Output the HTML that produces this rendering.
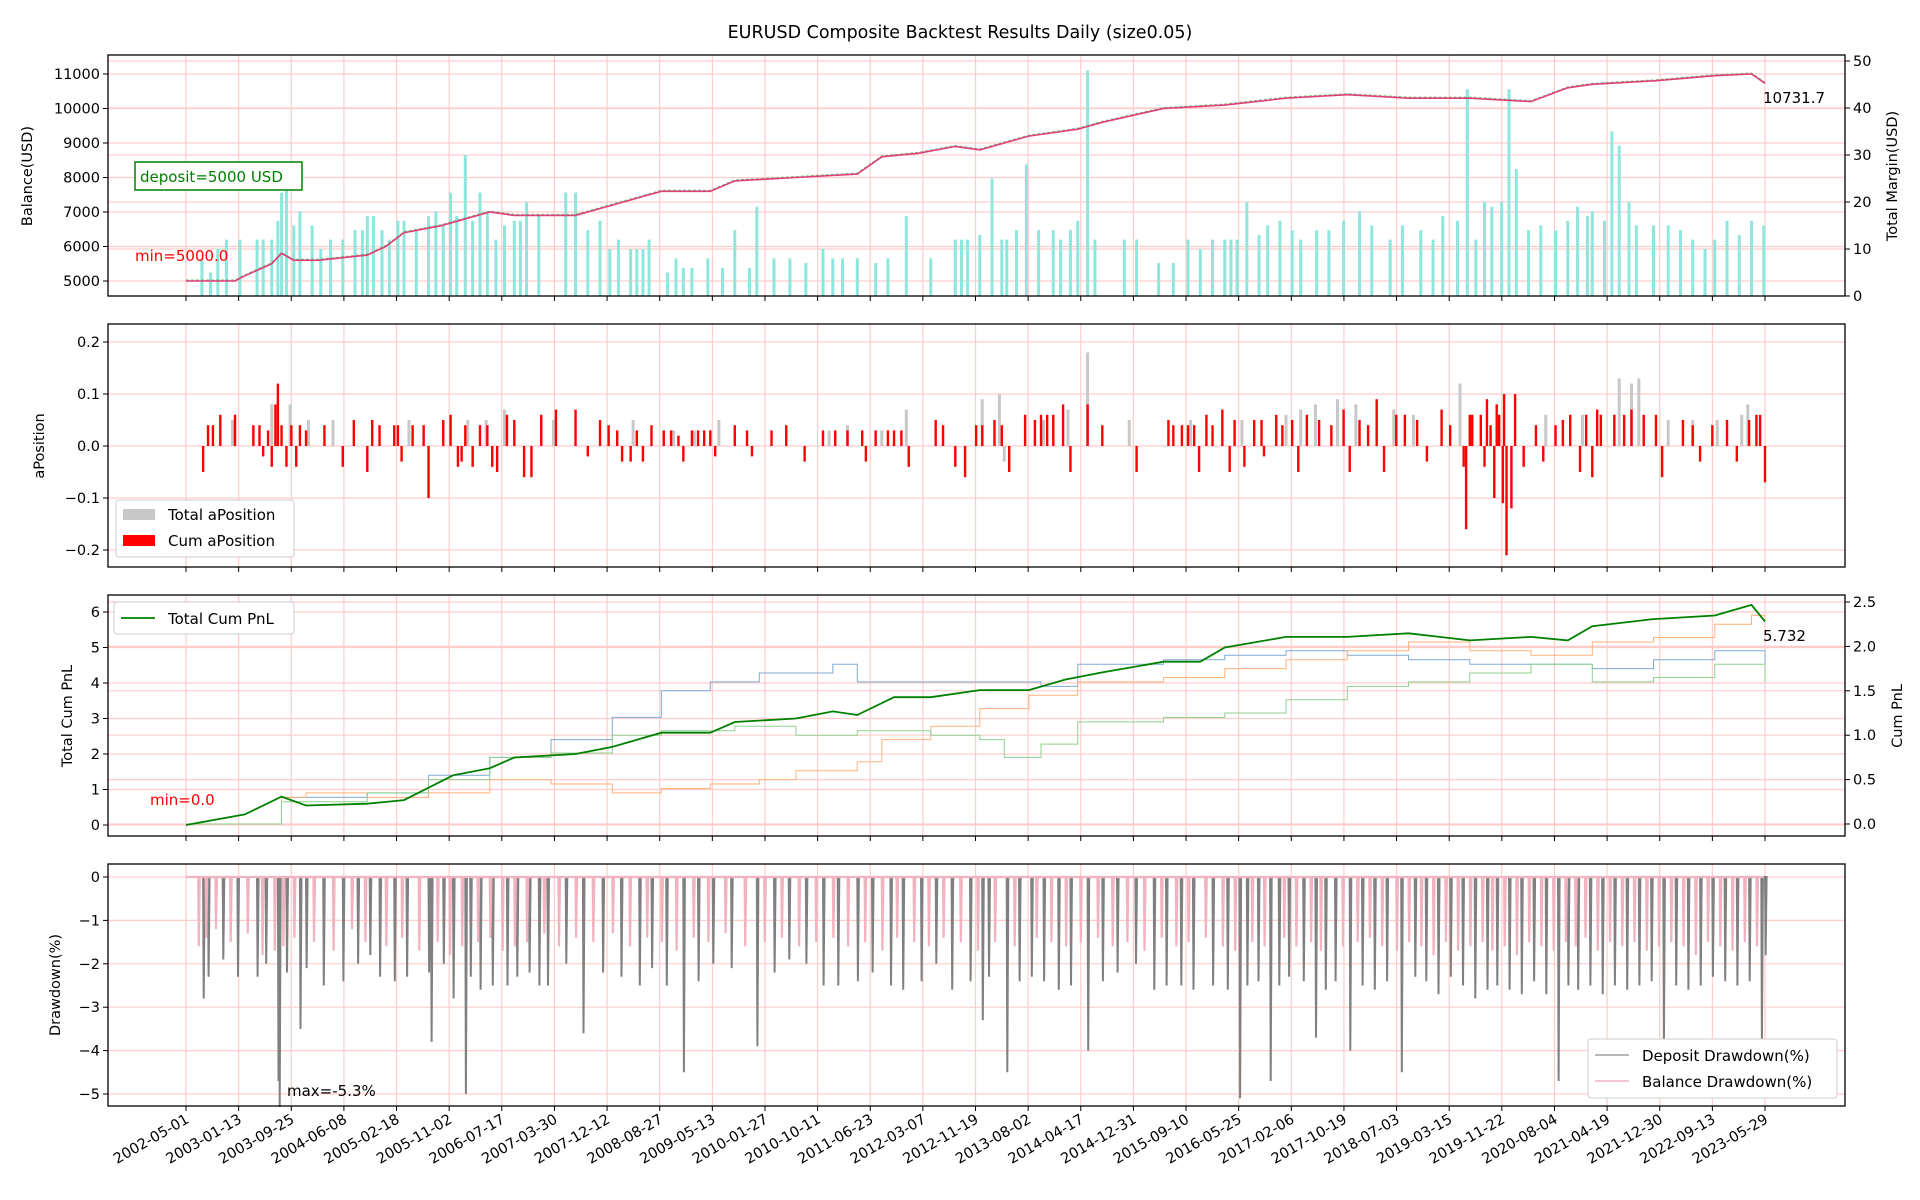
<!DOCTYPE html>
<html><head><meta charset="utf-8"><style>
html,body{margin:0;padding:0;background:#fff;}
svg{display:block;font-family:"DejaVu Sans","Liberation Sans",sans-serif;}
</style></head><body>
<svg id="chart" width="1920" height="1200" viewBox="0 0 1920 1200" xmlns="http://www.w3.org/2000/svg">
<text x="960" y="38" font-size="17.5" text-anchor="middle">EURUSD Composite Backtest Results Daily (size0.05)</text>
</svg>
<script>
// ---------- data ----------
const dateLabels = ["2002-05-01","2003-01-13","2003-09-25","2004-06-08","2005-02-18","2005-11-02","2006-07-17","2007-03-30","2007-12-12","2008-08-27","2009-05-13","2010-01-27","2010-10-11","2011-06-23","2012-03-07","2012-11-19","2013-08-02","2014-04-17","2014-12-31","2015-09-10","2016-05-25","2017-02-06","2017-10-19","2018-07-03","2019-03-15","2019-11-22","2020-08-04","2021-04-19","2021-12-30","2022-09-13","2023-05-29"];
const balanceIdx = [0,40,48,70,78,88,108,148,163,178,208,248,268,318,348,388,428,448,498,548,568,598,628,648,688,728,748,798,848,898,948,998,1048,1098,1128,1148,1198,1248,1278,1289];
const balanceVal = [5000,5000,5150,5500,5800,5600,5600,5750,6000,6400,6600,7000,6900,6900,7200,7600,7600,7900,8000,8100,8600,8700,8900,8800,9200,9400,9600,10000,10100,10300,10400,10300,10300,10200,10600,10700,10800,10950,11000,10731.7];
const marginIdx = [13,20,26,33,44,58,63,70,75,78,82,88,93,103,110,118,128,138,144,148,153,160,166,173,178,188,198,204,210,216,221,228,234,240,246,253,260,268,273,278,288,310,318,328,338,346,353,363,368,373,378,393,400,406,413,426,438,448,460,466,480,493,506,520,528,536,548,563,573,588,608,628,633,638,648,658,666,670,678,686,696,708,714,722,728,736,742,766,776,794,806,818,828,838,848,853,858,866,876,883,893,903,910,923,933,945,958,968,983,993,1008,1018,1026,1038,1046,1053,1060,1066,1074,1080,1086,1096,1106,1118,1128,1136,1144,1148,1158,1164,1170,1178,1184,1198,1210,1220,1230,1240,1248,1258,1268,1278,1288];
const marginVal = [8,5,10,12,12,12,12,12,16,22,25,15,18,15,10,12,12,14,14,17,17,14,12,16,16,14,17,18,15,22,17,30,16,22,18,12,15,16,16,20,17,22,22,14,16,10,12,10,10,10,12,5,8,6,6,8,6,14,6,19,8,8,7,10,8,8,8,7,8,17,8,12,12,12,13,25,12,12,14,28,14,14,12,14,16,48,12,12,12,7,7,12,10,12,12,12,12,20,13,15,16,14,12,14,14,16,18,15,12,15,14,12,17,16,44,12,20,19,20,44,27,14,15,14,16,19,17,18,16,35,32,20,15,15,15,14,12,10,12,16,13,16,15];
const cumPosIdx = [14,18,22,28,40,55,60,63,67,70,73,75,78,82,86,90,93,98,113,128,137,148,152,158,170,173,176,185,194,198,210,216,222,225,228,234,240,246,250,254,262,268,276,282,290,302,318,328,338,345,352,356,363,368,373,380,390,396,402,406,413,418,423,428,432,448,458,462,478,490,505,520,530,540,552,555,563,573,578,584,590,612,618,628,636,645,650,660,666,672,685,693,698,703,708,716,722,736,748,776,802,806,813,818,823,827,833,838,846,852,856,864,872,878,880,890,895,903,908,915,925,935,945,950,958,965,972,978,988,995,1005,1013,1025,1032,1043,1045,1048,1050,1057,1060,1062,1065,1068,1070,1072,1075,1076,1078,1082,1085,1092,1102,1108,1118,1124,1130,1138,1143,1148,1152,1155,1166,1174,1180,1190,1200,1205,1222,1230,1236,1246,1258,1266,1276,1282,1285,1289];
const cumPosVal = [-0.05,0.04,0.04,0.06,0.06,0.04,0.04,-0.02,0.03,-0.04,0.08,0.12,0.04,-0.04,0.04,-0.04,0.04,0.03,0.04,-0.04,0.05,-0.05,0.05,0.04,0.04,0.04,-0.03,0.04,0.04,-0.10,0.05,0.06,-0.04,-0.03,0.04,-0.04,0.04,0.04,-0.04,-0.05,0.06,0.05,-0.06,-0.06,0.06,0.07,0.07,-0.02,0.05,0.04,0.03,-0.03,-0.03,0.03,-0.03,0.04,0.03,0.03,0.02,-0.03,0.03,0.03,0.03,0.03,-0.02,0.04,0.03,-0.02,0.03,0.04,-0.03,0.03,0.03,0.03,0.03,-0.03,0.03,0.03,0.03,0.03,-0.04,0.05,0.04,-0.04,-0.06,0.04,0.04,0.05,0.04,-0.05,0.06,0.05,0.06,0.06,0.06,0.08,-0.05,0.08,0.04,-0.05,0.05,0.04,0.04,0.04,0.04,-0.05,0.06,0.04,0.07,-0.05,0.05,-0.04,0.05,0.05,-0.02,0.06,0.04,0.05,-0.05,0.06,0.05,0.04,0.07,-0.05,0.05,0.04,0.09,-0.05,0.06,0.06,0.05,-0.03,0.07,0.04,-0.04,-0.16,0.06,0.06,0.06,-0.04,0.09,0.04,-0.10,0.08,0.06,-0.11,0.10,-0.21,-0.12,0.10,-0.04,0.04,-0.03,0.04,0.05,0.06,-0.05,0.06,-0.06,0.07,0.06,0.06,0.06,0.07,0.06,0.06,-0.06,0.05,0.04,-0.03,0.04,0.05,-0.03,0.05,0.06,0.06,-0.07];
const totPosIdx = [38,70,85,100,120,182,230,245,260,300,365,398,415,435,525,540,568,588,650,664,668,700,720,736,770,820,862,898,910,922,940,955,986,1002,1040,1110,1140,1170,1180,1186,1210,1230,1250,1270,1275];
const totPosVal = [0.05,0.08,0.08,0.05,0.05,0.05,0.05,0.05,0.07,0.05,0.05,0.03,0.03,0.05,0.03,0.04,0.03,0.07,0.09,0.10,-0.03,0.05,0.07,0.18,0.05,0.05,0.05,0.06,0.07,0.08,0.09,0.08,0.07,0.06,0.12,0.06,0.06,0.13,0.12,0.13,0.05,0.05,0.05,0.06,0.08];
const totPnlIdx = [0,48,78,98,148,178,218,248,268,318,348,388,428,448,498,528,548,578,608,648,688,718,748,798,828,848,898,948,998,1048,1098,1128,1148,1198,1248,1278,1289];
const totPnlVal = [0,0.3,0.8,0.55,0.6,0.7,1.4,1.6,1.9,2.0,2.2,2.6,2.6,2.9,3.0,3.2,3.1,3.6,3.6,3.8,3.8,4.1,4.3,4.6,4.6,5.0,5.3,5.3,5.4,5.2,5.3,5.2,5.6,5.8,5.9,6.2,5.732];
const blueIdx = [0,78,148,198,248,298,348,388,428,468,498,528,548,598,648,698,728,798,848,898,948,998,1048,1098,1148,1198,1248,1289];
const blueVal = [0,0.3,0.35,0.55,0.75,0.95,1.2,1.5,1.6,1.7,1.7,1.8,1.6,1.6,1.6,1.55,1.8,1.85,1.9,1.95,1.9,1.85,1.8,1.8,1.75,1.85,1.95,1.8];
const orangeIdx = [0,78,98,148,198,248,298,348,388,428,468,498,548,568,608,648,688,728,798,848,898,948,998,1048,1098,1148,1198,1248,1278,1289];
const orangeVal = [0,0.3,0.35,0.3,0.35,0.5,0.45,0.35,0.4,0.45,0.5,0.6,0.7,0.95,1.1,1.3,1.45,1.6,1.65,1.75,1.85,1.95,2.05,1.95,1.9,2.05,2.1,2.25,2.35,2.3];
const greenIdx = [0,78,148,198,248,298,348,388,448,498,548,608,648,668,698,728,798,848,898,948,998,1048,1098,1148,1198,1248,1289];
const greenVal = [0,0.25,0.35,0.5,0.75,0.8,1.0,1.05,1.1,1.0,1.05,1.0,0.95,0.75,0.9,1.15,1.2,1.25,1.4,1.55,1.6,1.7,1.8,1.6,1.65,1.8,1.6];
const depDdIdx = [14,18,30,42,58,65,75,76,82,93,98,112,128,140,150,158,170,180,198,200,210,218,228,232,240,250,262,270,280,288,295,310,324,340,355,370,380,392,406,418,430,445,466,480,492,506,520,532,548,560,575,585,600,612,625,640,650,655,670,680,690,700,712,722,736,748,760,775,790,800,812,822,838,850,860,866,875,885,892,900,912,922,930,938,950,960,970,980,992,1003,1012,1022,1032,1042,1052,1062,1070,1080,1090,1100,1110,1120,1128,1136,1146,1156,1166,1176,1186,1196,1206,1216,1226,1236,1246,1256,1266,1276,1286,1289];
const depDdVal = [-2.8,-2.3,-1.9,-2.3,-2.3,-2.0,-4.7,-5.3,-2.2,-3.5,-2.1,-2.5,-2.4,-2.0,-1.8,-2.3,-2.4,-2.3,-2.2,-3.8,-2.0,-2.8,-5.0,-2.3,-2.6,-2.5,-2.5,-2.3,-2.2,-2.5,-2.5,-2.0,-3.6,-2.2,-2.3,-2.5,-2.1,-2.5,-4.5,-2.4,-2.0,-2.1,-3.9,-2.2,-1.9,-2.0,-2.5,-2.5,-2.4,-2.2,-2.5,-2.6,-2.4,-2.0,-2.6,-2.4,-3.3,-2.3,-4.5,-2.4,-2.3,-2.4,-2.6,-2.5,-4.0,-2.4,-2.2,-2.0,-2.6,-2.5,-2.5,-2.6,-2.5,-2.6,-5.1,-2.5,-2.4,-4.7,-2.5,-2.3,-2.4,-3.7,-2.6,-2.4,-4.0,-2.5,-2.6,-2.4,-4.5,-2.3,-2.4,-2.7,-2.3,-2.5,-2.8,-2.6,-2.5,-2.6,-2.7,-2.4,-2.7,-4.7,-2.5,-2.6,-2.5,-2.7,-2.5,-2.6,-2.5,-2.4,-4.0,-2.5,-2.6,-2.5,-2.3,-2.4,-2.5,-2.4,-3.9,-1.8];
const balDdIdx = [10,16,24,36,50,62,72,79,88,104,120,135,146,163,176,190,205,215,225,238,248,258,268,278,292,304,318,332,348,362,376,388,400,414,426,440,456,472,486,500,514,528,540,554,568,580,594,606,618,632,646,660,676,694,706,718,730,744,756,768,782,796,808,818,832,846,856,870,880,896,906,918,926,944,956,966,976,988,998,1008,1018,1028,1038,1048,1058,1066,1076,1086,1096,1106,1116,1126,1134,1142,1152,1162,1172,1182,1192,1202,1212,1222,1232,1242,1252,1262,1272,1282,1288];
const balDdVal = [-1.6,-1.4,-1.2,-1.5,-1.3,-1.8,-1.7,-1.6,-1.4,-1.5,-1.7,-1.2,-1.5,-1.6,-1.4,-1.7,-1.5,-1.8,-1.6,-1.5,-1.4,-1.7,-1.6,-1.5,-1.3,-1.6,-1.4,-1.5,-1.3,-1.6,-1.4,-1.5,-1.7,-1.4,-1.5,-1.3,-1.6,-1.5,-1.4,-1.6,-1.5,-1.4,-1.6,-1.5,-1.7,-1.4,-1.5,-1.6,-1.4,-1.5,-1.7,-1.5,-1.6,-1.4,-1.5,-1.6,-1.5,-1.4,-1.6,-1.5,-1.7,-1.4,-1.6,-1.5,-1.4,-1.6,-1.7,-1.5,-1.6,-1.4,-1.6,-1.5,-1.7,-1.6,-1.5,-1.4,-1.6,-1.7,-1.5,-1.6,-1.8,-1.5,-1.7,-1.6,-1.5,-1.7,-1.6,-1.8,-1.5,-1.6,-1.7,-1.5,-1.6,-1.4,-1.7,-1.5,-1.6,-1.5,-1.7,-1.6,-1.5,-1.6,-1.8,-1.5,-1.6,-1.7,-1.5,-1.6];
const balTicks = [5000,6000,7000,8000,9000,10000,11000];
const marginTicks = [0,10,20,30,40,50];
const posTicks = [-0.2,-0.1,0.0,0.1,0.2];
const pnlTicks = [0,1,2,3,4,5,6];
const cumPnlTicks = [0.0,0.5,1.0,1.5,2.0,2.5];
const ddTicks = [0,-1,-2,-3,-4,-5];

// ---------- layout ----------
const NS="http://www.w3.org/2000/svg";
const svg=document.getElementById('chart');
const AX_L=108, AX_R=1845;
const X0=186, X_END=1765, IDX_END=1289;
const NT=dateLabels.length;
const panels=[{t:55,b:296},{t:324,b:567},{t:595,b:836},{t:864,b:1106}];
function X(i){return X0+i*(X_END-X0)/IDX_END;}
function tickX(k){return X0+k*(X_END-X0)/(NT-1);}
function lin(v0,p0,v1,p1){return v=>p0+(v-v0)*(p1-p0)/(v1-v0);}
const y1L=lin(5000,281,11000,74), y1R=lin(0,296,50,61);
const y2=lin(0,446,0.2,342);
const y3L=lin(0,825,6,612), y3R=lin(0,824,2.5,602);
const y4=lin(0,877,-5,1094);
function el(tag,attrs,parent){const e=document.createElementNS(NS,tag);for(const k in attrs)e.setAttribute(k,attrs[k]);(parent||svg).appendChild(e);return e;}
function fmt(v,d){return (v<0?"\u2212":"")+Math.abs(v).toFixed(d);}

function gridAndFrame(p,name){
  const g=el('g',{});
  
  
  for(let k=0;k<NT;k++){el('line',{x1:tickX(k),x2:tickX(k),y1:p.t,y2:p.b,stroke:'#ffcccc','stroke-width':1.2},g);}
  return g;
}
function hgrid(g,ticks,f){ticks.forEach(v=>{const y=f(v);el('line',{x1:AX_L,x2:AX_R,y1:y,y2:y,stroke:'#ffcccc','stroke-width':1.2},g);});}
function frame(p,name){
  const r=el('rect',{x:AX_L,y:p.t,width:AX_R-AX_L,height:p.b-p.t,fill:'none',stroke:'#000','stroke-width':1.3});
  
  
  for(let k=0;k<NT;k++){el('line',{x1:tickX(k),x2:tickX(k),y1:p.b,y2:p.b+5,stroke:'#000','stroke-width':1});}
}
function leftTicks(ticks,f,dec,name,minus){
  const g=el('g',{});
  
  
  ticks.forEach(v=>{const y=f(v);el('line',{x1:AX_L-5,x2:AX_L,y1:y,y2:y,stroke:'#000'},g);
    const t=el('text',{x:AX_L-8,y:y+5,'font-size':14.5,'text-anchor':'end'},g);t.textContent=minus?fmt(v,dec):v.toFixed(dec);});
}
function rightTicks(ticks,f,dec,name){
  const g=el('g',{});
  
  
  ticks.forEach(v=>{const y=f(v);el('line',{x1:AX_R,x2:AX_R+5,y1:y,y2:y,stroke:'#000'},g);
    const t=el('text',{x:AX_R+8,y:y+5,'font-size':14.5},g);t.textContent=v.toFixed(dec);});
}
function vlabel(x,y,txt,name){
  const t=el('text',{x:x,y:y,'font-size':14.5,'text-anchor':'middle',transform:`rotate(-90 ${x} ${y})`});
  t.textContent=txt;
  
  
}
function line(idx,vals,f,attrs,name){
  const pts=idx.map((i,k)=>X(i).toFixed(1)+','+f(vals[k]).toFixed(1)).join(' ');
  const pl=el('polyline',Object.assign({points:pts,fill:'none'},attrs));
  
  
  return pl;
}
function stepLine(idx,vals,f,attrs,name){
  let d='';
  idx.forEach((i,k)=>{const x=X(i).toFixed(1),y=f(vals[k]).toFixed(1);
    if(k===0)d+=`M${x},${y}`;else d+=` H${x} V${y}`;});
  const p=el('path',Object.assign({d:d,fill:'none'},attrs));
  
  
  return p;
}

// ---------- Panel 1 ----------
let g=gridAndFrame(panels[0],'balance');hgrid(g,balTicks,y1L);hgrid(g,marginTicks.slice(1),y1R);
marginIdx.forEach((i,k)=>{
  const r=el('rect',{x:X(i)-1.5,y:y1R(marginVal[k]),width:3,height:y1R(0)-y1R(marginVal[k]),fill:'#8ee6dc'});
  
  
});
line(balanceIdx,balanceVal.map(v=>v+30),y1L,{stroke:'#4caf50','stroke-width':1,'stroke-dasharray':'3,2',opacity:0.8},'equity-line');
line(balanceIdx,balanceVal,y1L,{stroke:'#e0407a','stroke-width':1.6},'balance-line');
frame(panels[0],'balance');
leftTicks(balTicks,y1L,0,'balance-y-ticks');
rightTicks(marginTicks,y1R,0,'margin-y-ticks');
vlabel(32,176,'Balance(USD)','balance-y-axis-title');
vlabel(1897,176,'Total Margin(USD)','margin-y-axis-title');
{const r=el('rect',{x:135,y:162,width:167,height:28,fill:'#fff',stroke:'#008000','stroke-width':1.5});
 const t=el('text',{x:140,y:182,'font-size':15,fill:'#008000'});t.textContent='deposit=5000 USD';}
{const t=el('text',{x:135,y:261,'font-size':15,fill:'#ff0000'});t.textContent='min=5000.0';}
{const t=el('text',{x:1763,y:103,'font-size':15});t.textContent='10731.7';}

// ---------- Panel 2 ----------
g=gridAndFrame(panels[1],'position');hgrid(g,posTicks,y2);
totPosIdx.forEach((i,k)=>{const v=totPosVal[k];const y=Math.min(y2(v),y2(0));
  const r=el('rect',{x:X(i)-1.5,y:y,width:3,height:Math.abs(y2(v)-y2(0)),fill:'#c8c8c8'});
  
  });
cumPosIdx.forEach((i,k)=>{const v=cumPosVal[k];const y=Math.min(y2(v),y2(0));
  const r=el('rect',{x:X(i)-1.2,y:y,width:2.4,height:Math.abs(y2(v)-y2(0)),fill:'#ff0000'});
  
  });
frame(panels[1],'position');
leftTicks(posTicks,y2,1,'position-y-ticks',true);
vlabel(44,446,'aPosition','position-y-axis-title');
{const lg=el('g',{});
 el('rect',{x:116,y:500,width:178,height:57,rx:3,fill:'#fff',stroke:'#ccc'},lg);
 el('rect',{x:123,y:509,width:32,height:11,fill:'#c8c8c8'},lg);
 el('rect',{x:123,y:535,width:32,height:11,fill:'#ff0000'},lg);
 let t=el('text',{x:168,y:520,'font-size':15},lg);t.textContent='Total aPosition';
 t=el('text',{x:168,y:546,'font-size':15},lg);t.textContent='Cum aPosition';}

// ---------- Panel 3 ----------
g=gridAndFrame(panels[2],'pnl');hgrid(g,pnlTicks,y3L);hgrid(g,cumPnlTicks,y3R);
stepLine(blueIdx,blueVal,y3R,{stroke:'#7fa9d6','stroke-width':1},'cum-pnl-blue');
stepLine(orangeIdx,orangeVal,y3R,{stroke:'#ffb27a','stroke-width':1},'cum-pnl-orange');
stepLine(greenIdx,greenVal,y3R,{stroke:'#8fd18f','stroke-width':1},'cum-pnl-green');
line(totPnlIdx,totPnlVal,y3L,{stroke:'#008000','stroke-width':1.8},'total-cum-pnl-line');
frame(panels[2],'pnl');
leftTicks(pnlTicks,y3L,0,'pnl-y-ticks');
rightTicks(cumPnlTicks,y3R,1,'cum-pnl-y-ticks');
vlabel(72,716,'Total Cum PnL','pnl-y-axis-title');
vlabel(1902,716,'Cum PnL','cum-pnl-y-axis-title');
{const lg=el('g',{});
 el('rect',{x:114,y:602,width:180,height:32,rx:3,fill:'#fff',stroke:'#ccc'},lg);
 el('line',{x1:121,x2:155,y1:618,y2:618,stroke:'#008000','stroke-width':1.8},lg);
 const t=el('text',{x:168,y:624,'font-size':15},lg);t.textContent='Total Cum PnL';}
{const t=el('text',{x:150,y:805,'font-size':15,fill:'#ff0000'});t.textContent='min=0.0';}
{const t=el('text',{x:1763,y:641,'font-size':15});t.textContent='5.732';}

// ---------- Panel 4 ----------
g=gridAndFrame(panels[3],'drawdown');hgrid(g,ddTicks,y4);
function spikePath(idx,vals,attrs,name){
  let d=`M${X(0).toFixed(1)},${y4(0).toFixed(1)}`;
  idx.forEach((i,k)=>{const x=X(i);d+=` L${x.toFixed(1)},${y4(0).toFixed(1)} L${(x+0.6).toFixed(1)},${y4(vals[k]).toFixed(1)} L${(x+1.6).toFixed(1)},${y4(0).toFixed(1)}`;});
  d+=` L${X(IDX_END).toFixed(1)},${y4(0).toFixed(1)}`;
  const p=el('path',Object.assign({d:d,fill:'none'},attrs));
  
  
}
spikePath(depDdIdx,depDdVal,{stroke:'#808080','stroke-width':2},'deposit-drawdown-line');
spikePath(balDdIdx,balDdVal,{stroke:'#f2b3c0','stroke-width':2.2},'balance-drawdown-line');
frame(panels[3],'drawdown');
leftTicks(ddTicks,y4,0,'drawdown-y-ticks',true);
vlabel(60,985,'Drawdown(%)','drawdown-y-axis-title');
{const t=el('text',{x:287,y:1096,'font-size':15});t.textContent='max=-5.3%';}
{const lg=el('g',{});
 el('rect',{x:1588,y:1039,width:249,height:59,rx:3,fill:'#fff',stroke:'#ccc'},lg);
 el('line',{x1:1595,x2:1629,y1:1055,y2:1055,stroke:'#a0a0a0','stroke-width':1.5},lg);
 el('line',{x1:1595,x2:1629,y1:1081,y2:1081,stroke:'#f2b3c0','stroke-width':1.5},lg);
 let t=el('text',{x:1642,y:1061,'font-size':15},lg);t.textContent='Deposit Drawdown(%)';
 t=el('text',{x:1642,y:1087,'font-size':15},lg);t.textContent='Balance Drawdown(%)';}

// ---------- x tick labels ----------
{const xg=el('g',{});
 dateLabels.forEach((s,k)=>{const x=tickX(k)+4,y=1122;
  const t=el('text',{x:x,y:y,'font-size':14.5,'text-anchor':'end',transform:`rotate(-30 ${x} ${y})`},xg);t.textContent=s;});}
</script>
</body></html>
